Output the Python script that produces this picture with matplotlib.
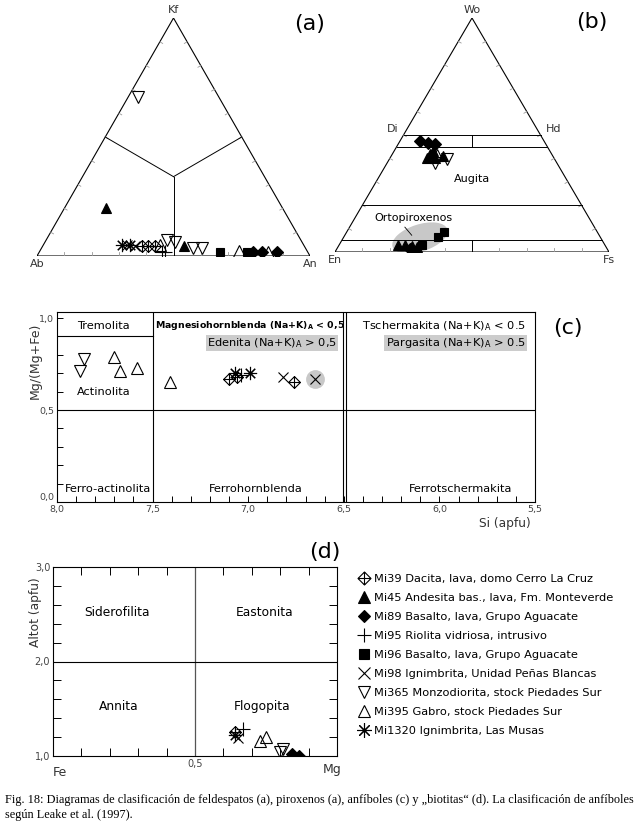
import numpy as np
import matplotlib
matplotlib.use("Agg")
import matplotlib.pyplot as plt
from matplotlib.path import Path
from matplotlib.patches import Ellipse
from matplotlib.lines import Line2D

W, H = 643, 823
SQ3 = np.sqrt(3) / 2
plt.rcParams['font.family'] = ['DejaVu Sans']

# muestras y leyenda
samples = ["Mi39", "Mi45", "Mi89", "Mi95", "Mi96", "Mi98", "Mi365", "Mi395", "Mi1320"]
sample_labels = [
    "Mi39 Dacita, lava, domo Cerro La Cruz",
    "Mi45 Andesita bas., lava, Fm. Monteverde",
    "Mi89 Basalto, lava, Grupo Aguacate",
    "Mi95 Riolita vidriosa, intrusivo",
    "Mi96 Basalto, lava, Grupo Aguacate",
    "Mi98 Ignimbrita, Unidad Peñas Blancas",
    "Mi365 Monzodiorita, stock Piedades Sur",
    "Mi395 Gabro, stock Piedades Sur",
    "Mi1320 Ignimbrita, Las Musas",
]

# (a) feldespatos: fracciones An y Kf (Ab = 1 - An - Kf)
a_sample = ["Mi365", "Mi45", "Mi1320", "Mi98", "Mi1320", "Mi98", "Mi39", "Mi39", "Mi39",
            "Mi395", "Mi95", "Mi95", "Mi365", "Mi365", "Mi45", "Mi365", "Mi365", "Mi96",
            "Mi395", "Mi96", "Mi89", "Mi89", "Mi395", "Mi89"]
a_an = [0.035, 0.153, 0.287, 0.306, 0.318, 0.338, 0.363, 0.387, 0.411, 0.428, 0.448, 0.460,
        0.441, 0.476, 0.517, 0.555, 0.587, 0.66, 0.73, 0.76, 0.784, 0.815, 0.839, 0.87]
a_kf = [0.67, 0.20, 0.046, 0.046, 0.046, 0.042, 0.042, 0.042, 0.042, 0.046, 0.017, 0.017,
        0.067, 0.059, 0.042, 0.033, 0.033, 0.017, 0.021, 0.017, 0.017, 0.017, 0.017, 0.017]

# (b) piroxenos: fracciones Fs y Wo (En = 1 - Fs - Wo)
b_sample = ["Mi89", "Mi89", "Mi89", "Mi45", "Mi45", "Mi45", "Mi45", "Mi45", "Mi365", "Mi365",
            "Mi395", "Mi45", "Mi45", "Mi45", "Mi45", "Mi89", "Mi96", "Mi96", "Mi96"]
b_fs = [0.074, 0.107, 0.135, 0.143, 0.138, 0.136, 0.165, 0.189, 0.21, 0.175, 0.166,
        0.215, 0.24, 0.268, 0.289, 0.267, 0.303, 0.344, 0.356]
b_wo = [0.473, 0.464, 0.46, 0.43, 0.418, 0.40, 0.40, 0.41, 0.397, 0.38, 0.413,
        0.03, 0.03, 0.025, 0.021, 0.013, 0.03, 0.063, 0.084]

# (c) anfiboles: Si (apfu) y Mg/(Mg+Fe)
c_sample = ["Mi365", "Mi365", "Mi395", "Mi395", "Mi395", "Mi395", "Mi39", "Mi1320", "Mi39",
            "Mi95", "Mi1320", "Mi98", "Mi39", "Mi98"]
c_si = [7.86, 7.88, 7.70, 7.67, 7.58, 7.41, 7.10, 7.07, 7.06, 7.04, 6.99, 6.82, 6.76, 6.65]
c_mg = [0.78, 0.71, 0.79, 0.71, 0.73, 0.65, 0.67, 0.70, 0.68, 0.69, 0.70, 0.68, 0.65, 0.67]
c_highlight = [False] * 13 + [True]

# (d) biotitas: Mg/(Mg+Fe) y Al total (apfu)
d_sample = ["Mi39", "Mi1320", "Mi98", "Mi95", "Mi395", "Mi395", "Mi365", "Mi365", "Mi89", "Mi89"]
d_mg = [0.64, 0.64, 0.65, 0.67, 0.73, 0.75, 0.80, 0.81, 0.84, 0.865]
d_al = [1.25, 1.22, 1.19, 1.29, 1.16, 1.20, 1.04, 1.07, 1.02, 1.00]

caption = ["Fig. 18: Diagramas de clasificación de feldespatos (a), piroxenos (a), anfíboles (c) y "
           "\u201ebiotitas\u201c (d). La clasificación de anfíboles",
           "según Leake et al. (1997)."]

# simbolos
M, L, C = Path.MOVETO, Path.LINETO, Path.CLOSEPOLY
diamond_cross = Path([(0, 1), (1, 0), (0, -1), (-1, 0), (0, 1), (0, 1), (0, -1), (-1, 0), (1, 0)],
                     [M, L, L, L, C, M, L, M, L])
sty = {
    "Mi39": dict(marker=diamond_cross, mfc="none", ms=8.5),
    "Mi45": dict(marker="^", mfc="k", ms=7.5),
    "Mi89": dict(marker="D", mfc="k", ms=5.8),
    "Mi95": dict(marker="+", ms=9.5),
    "Mi96": dict(marker="s", mfc="k", ms=6.2),
    "Mi98": dict(marker="x", ms=7.5),
    "Mi365": dict(marker="v", mfc="none", ms=8.5),
    "Mi395": dict(marker="^", mfc="none", ms=8.5),
    "Mi1320": dict(marker=(8, 2, 0), ms=9.5),
}

fig = plt.figure(figsize=(W / 100, H / 100), dpi=100)


def px_axes(x0, y0, x1, y1):
    return fig.add_axes([x0 / W, 1 - y1 / H, (x1 - x0) / W, (y1 - y0) / H])


def tern(right, top):
    right = np.asarray(right, float)
    top = np.asarray(top, float)
    return right + top / 2, top * SQ3


def plot_samples(ax, xs, ys, names, zorder=3):
    xs, ys, names = np.asarray(xs), np.asarray(ys), np.asarray(names)
    for s in samples:
        m = names == s
        if m.any():
            ax.plot(xs[m], ys[m], ls="none", color="k", mec="k", mew=0.8, zorder=zorder, **sty[s])


def tern_frame(ax, base_ticks=True):
    x, y = tern([0, 1, 0, 0], [0, 0, 1, 0])
    ax.plot(x, y, color="k", lw=0.8)
    d = 0.012
    for f in np.arange(0.1, 0.95, 0.1):
        if base_ticks:
            ax.plot([f, f], [0, d * 1.2], color="#999", lw=0.6)
        lx, ly = tern(0, f)
        ax.plot([lx, lx + d * SQ3], [ly, ly - d * 0.5], color="#999", lw=0.6)
        rx, ry = tern(1 - f, f)
        ax.plot([rx, rx - d * SQ3], [ry, ry - d * 0.5], color="#999", lw=0.6)
    ax.set_xlim(0, 1)
    ax.set_ylim(0, SQ3)
    ax.axis("off")


tfs = 8  # vertices de los triangulos

# ---- (a) feldespatos
ax_a = px_axes(37, 18, 310, 256)
tern_frame(ax_a)
cx, cy = tern(1 / 3, 1 / 3)
for r, t in [(0, 0.5), (0.5, 0.5), (0.5, 0)]:
    ex, ey = tern(r, t)
    ax_a.plot([ex, cx], [ey, cy], color="k", lw=0.7)
ax, ay = tern(a_an, a_kf)
plot_samples(ax_a, ax, ay, a_sample)
ax_a.text(0.5, SQ3 + 0.012, "Kf", ha="center", va="bottom", fontsize=tfs, color="#333")
ax_a.text(0, -0.012, "Ab", ha="center", va="top", fontsize=tfs, color="#333")
ax_a.text(1, -0.012, "An", ha="center", va="top", fontsize=tfs, color="#333")
fig.text(310 / W, 1 - 24 / H, "(a)", ha="center", va="center", fontsize=16)

# ---- (b) piroxenos
ax_b = px_axes(335, 18, 609, 252)
tern_frame(ax_b)
for w in [0.5, 0.45, 0.2, 0.05]:
    x0, y0 = tern(0, w)
    x1, y1 = tern(1 - w, w)
    ax_b.plot([x0, x1], [y0, y1], color="k", lw=0.7)
for w0, w1 in [(0.45, 0.5), (0, 0.05)]:
    ax_b.plot([0.5, 0.5], [w0 * SQ3, w1 * SQ3], color="k", lw=0.7)
ax_b.add_patch(Ellipse((0.31, 0.052), 0.21, 0.10, angle=18, color="#c8c8c8", lw=0, zorder=1))
ax_b.plot([0.255, 0.28], [0.092, 0.062], color="k", lw=0.6)
bx, by = tern(b_fs, b_wo)
plot_samples(ax_b, bx, by, b_sample)
ax_b.text(0.5, SQ3 + 0.012, "Wo", ha="center", va="bottom", fontsize=tfs, color="#333")
ax_b.text(0, -0.012, "En", ha="center", va="top", fontsize=tfs, color="#333")
ax_b.text(1, -0.012, "Fs", ha="center", va="top", fontsize=tfs, color="#333")
dx, dy = tern(0, 0.5)
ax_b.text(dx - 0.02, dy + 0.005, "Di", ha="right", va="bottom", fontsize=tfs, color="#333")
hx, hy = tern(0.5, 0.5)
ax_b.text(hx + 0.02, hy + 0.005, "Hd", ha="left", va="bottom", fontsize=tfs, color="#333")
ax_b.text(0.5, 0.27, "Augita", ha="center", va="center", fontsize=8)
ax_b.text(0.285, 0.125, "Ortopiroxenos", ha="center", va="center", fontsize=8)
fig.text(592 / W, 1 - 22 / H, "(b)", ha="center", va="center", fontsize=16)

# ---- (c) anfiboles
ax_c = px_axes(57, 312, 535, 502)
ax_c.set_xlim(8.0, 5.5)
ax_c.set_ylim(0, 1.033)
for sp in ax_c.spines.values():
    sp.set_linewidth(0.8)
ax_c.axvline(7.5, color="k", lw=0.8)
ax_c.axvline(6.505, color="k", lw=0.8)
ax_c.axvline(6.49, color="k", lw=0.8)
ax_c.axhline(0.5, color="k", lw=0.8)
ax_c.plot([8.0, 7.5], [0.9, 0.9], color="k", lw=0.8)
ax_c.set_xticks([8.0, 7.5, 7.0, 6.5, 6.0, 5.5], ["8,0", "7,5", "7,0", "6,5", "6,0", "5,5"])
ax_c.set_xticks(np.arange(5.5, 8.0, 0.1), minor=True)
ax_c.set_yticks([0, 0.5, 1.0], ["0,0", "0,5", "1,0"])
ax_c.set_yticks(np.arange(0.1, 1.0, 0.1), minor=True)
ax_c.tick_params(which="both", direction="in", length=4, width=0.7, labelsize=6.8,
                 labelcolor="#444", pad=2)
ax_c.get_yticklabels()[0].set_va("bottom")
hl = np.asarray(c_highlight)
ax_c.plot(np.asarray(c_si)[hl], np.asarray(c_mg)[hl], "o", ms=12.5, color="#c8c8c8", zorder=2)
plot_samples(ax_c, c_si, c_mg, c_sample)
fs = 8.2
ax_c.text(7.76, 0.957, "Tremolita", ha="center", va="center", fontsize=fs)
ax_c.text(7.49, 0.957, r"Magnesiohornblenda (Na+K)$_\mathbf{A}$ < 0,5", ha="left", va="center",
          fontsize=6.75, fontweight="bold")
ax_c.text(6.535, 0.864, r"Edenita (Na+K)$_\mathregular{A}$ > 0,5", ha="right", va="center",
          fontsize=fs, bbox=dict(fc="#cccccc", ec="none", pad=1))
ax_c.text(5.545, 0.957, r"Tschermakita (Na+K)$_\mathregular{A}$ < 0.5", ha="right", va="center",
          fontsize=fs)
ax_c.text(5.55, 0.864, r"Pargasita (Na+K)$_\mathregular{A}$ > 0.5", ha="right", va="center",
          fontsize=fs, bbox=dict(fc="#cccccc", ec="none", pad=1))
ax_c.text(7.754, 0.598, "Actinolita", ha="center", va="center", fontsize=fs)
ax_c.text(7.96, 0.07, "Ferro-actinolita", ha="left", va="center", fontsize=fs)
ax_c.text(6.96, 0.07, "Ferrohornblenda", ha="center", va="center", fontsize=fs)
ax_c.text(5.89, 0.07, "Ferrotschermakita", ha="center", va="center", fontsize=fs)
fig.text(35 / W, 1 - 361 / H, "Mg/(Mg+Fe)", rotation=90, ha="center", va="center", fontsize=9,
         color="#333")
fig.text(505 / W, 1 - 523 / H, "Si (apfu)", ha="center", va="center", fontsize=8.8, color="#333")
fig.text(568 / W, 1 - 328 / H, "(c)", ha="center", va="center", fontsize=16)

# ---- (d) biotitas
ax_d = px_axes(53, 567, 337, 756)
ax_d.set_xlim(0, 1)
ax_d.set_ylim(1, 3)
for sp in ax_d.spines.values():
    sp.set_linewidth(0.8)
ax_d.axvline(0.5, color="#555", lw=0.9)
ax_d.axhline(2.0, color="k", lw=0.8)
ax_d.set_xticks([0.5], ["0,5"])
ax_d.set_xticks(np.arange(0.1, 1.0, 0.1), minor=True)
ax_d.set_yticks([1, 2, 3], ["1,0", "2,0", "3,0"])
ax_d.set_yticks(np.arange(1.2, 3.0, 0.2), minor=True)
ax_d.tick_params(which="both", direction="in", length=5.8, width=0.7, labelsize=7,
                 labelcolor="#444", top=True, right=True, pad=2)
plot_samples(ax_d, d_mg, d_al, d_sample)
dfs = 8.8
ax_d.text(0.225, 2.52, "Siderofilita", ha="center", va="center", fontsize=dfs)
ax_d.text(0.746, 2.52, "Eastonita", ha="center", va="center", fontsize=dfs)
ax_d.text(0.232, 1.52, "Annita", ha="center", va="center", fontsize=dfs)
ax_d.text(0.736, 1.52, "Flogopita", ha="center", va="center", fontsize=dfs)
fig.text(60 / W, 1 - 772 / H, "Fe", ha="center", va="center", fontsize=9, color="#333")
fig.text(332 / W, 1 - 770 / H, "Mg", ha="center", va="center", fontsize=9, color="#333")
fig.text(35 / W, 1 - 612 / H, "Altot (apfu)", rotation=90, ha="center", va="center",
         fontsize=8.8, color="#333")
fig.text(325 / W, 1 - 552 / H, "(d)", ha="center", va="center", fontsize=16)

handles = [Line2D([], [], ls="none", color="k", mec="k", mew=0.8, **sty[s]) for s in samples]
fig.legend(handles, sample_labels, loc="upper left", bbox_to_anchor=(358 / W, 1 - 574 / H),
           frameon=False, fontsize=8.2, labelspacing=0.79, handlelength=1.0,
           handletextpad=0.4, borderpad=0, borderaxespad=0, markerscale=1.1)

# ---- pie de figura
for i, line in enumerate(caption):
    fig.text(5 / W, 1 - (800 + 15 * i) / H, line, ha="left", va="center",
             family="Liberation Serif", fontsize=8.86)

fig.savefig("out.png", dpi=100)
